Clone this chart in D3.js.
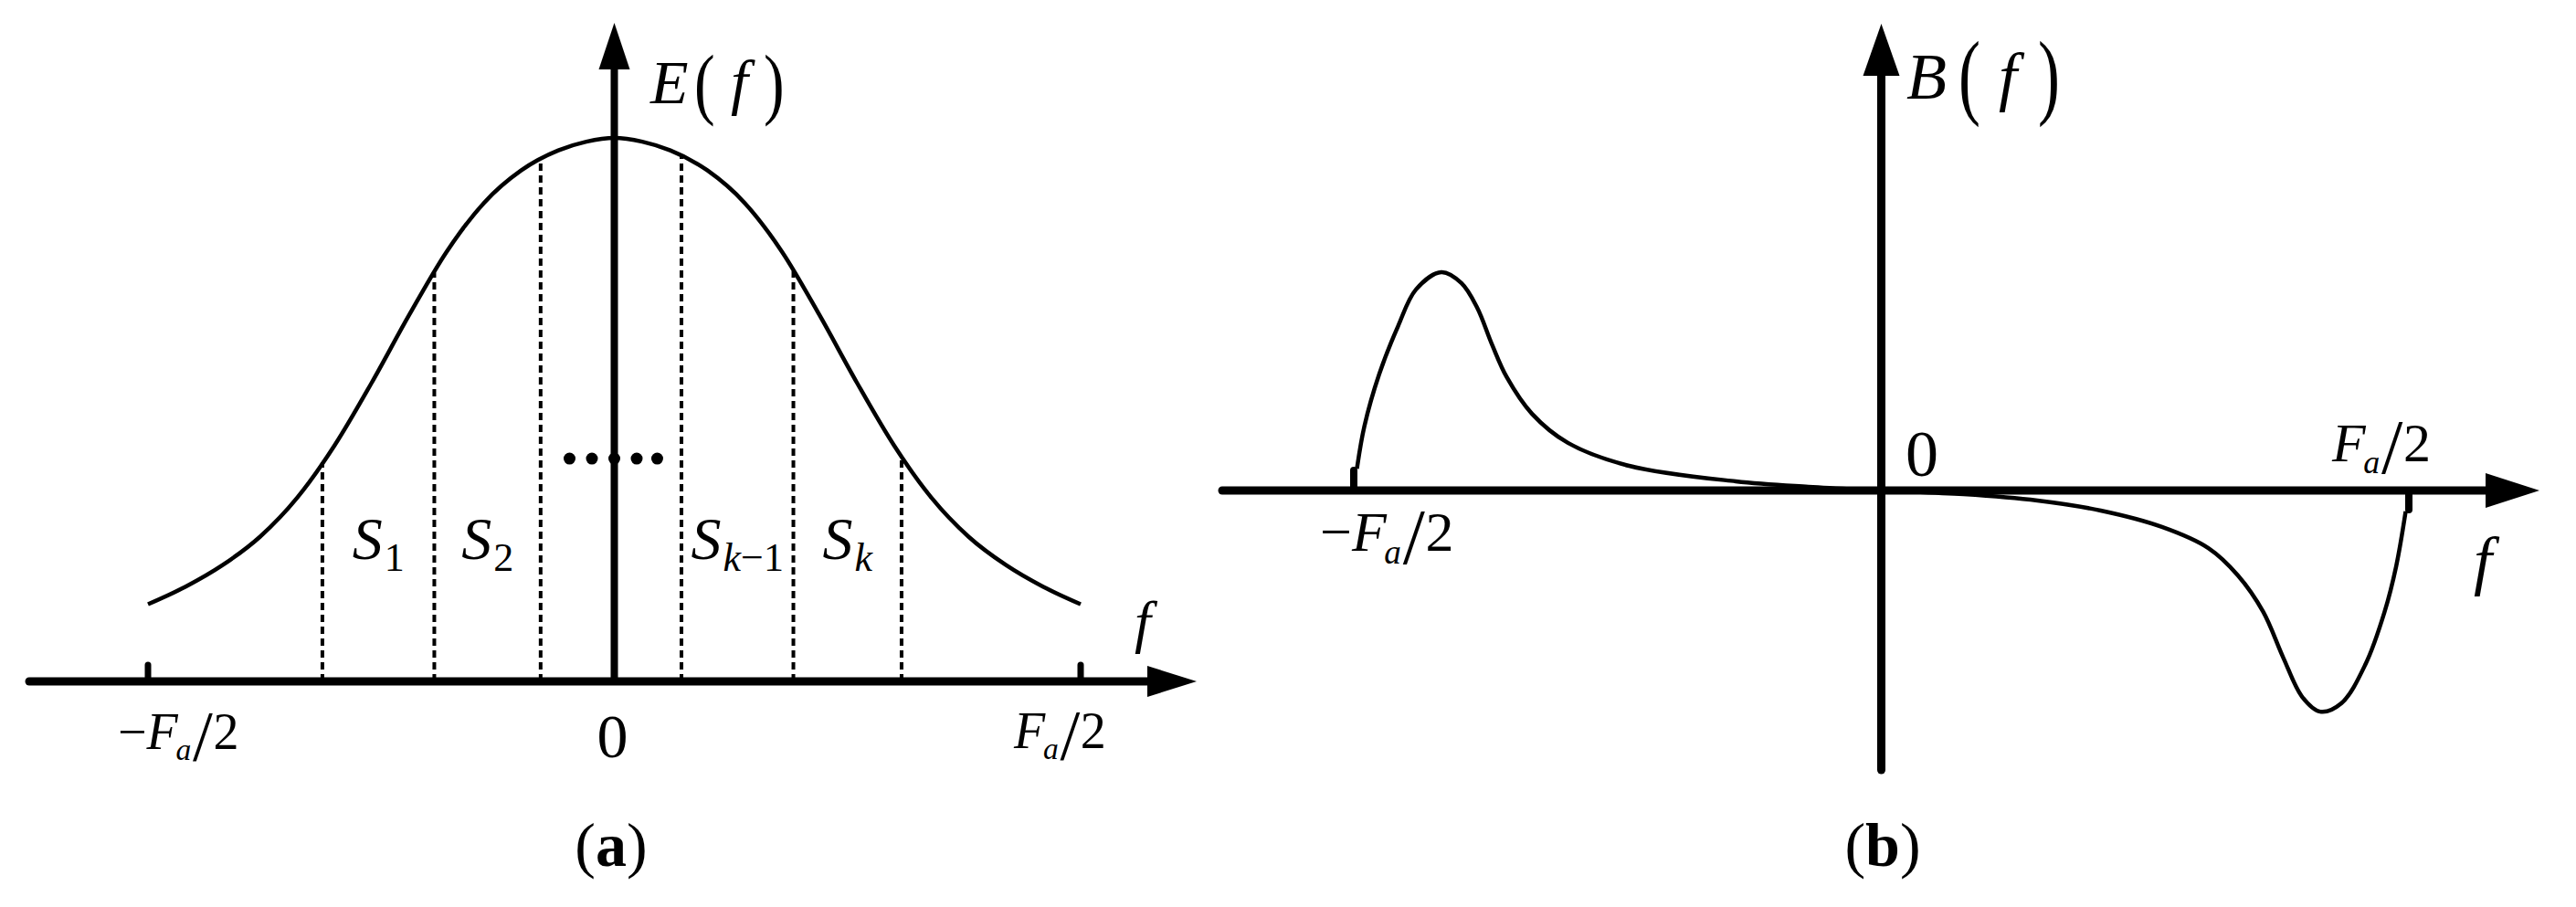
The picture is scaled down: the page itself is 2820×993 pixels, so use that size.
<!DOCTYPE html>
<html><head><meta charset="utf-8">
<script src="https://cdn.jsdelivr.net/npm/d3@7"></script>
<style>html,body{margin:0;padding:0;background:#fff}svg{display:block}</style>
</head><body><svg id="c" width="2820" height="993"></svg>
<script>
// ---------- data (f in units of Fa, Fa/2 = 0.5) ----------
// panel (a): E(f) curve
const fA = [-0.50,-0.46,-0.42,-0.38,-0.34,-0.30,-0.26,-0.22,-0.18,-0.14,-0.10,-0.06,-0.03,0,0.03,0.06,0.10,0.14,0.18,0.22,0.26,0.30,0.34,0.38,0.42,0.46,0.50];
const eA = [0.142,0.174,0.214,0.266,0.338,0.434,0.550,0.674,0.790,0.880,0.940,0.977,0.993,1,0.993,0.977,0.940,0.880,0.790,0.674,0.550,0.434,0.338,0.266,0.214,0.174,0.142];
// panel (a): subband boundaries (dashed lines)
const cutF = [-0.313,-0.193,-0.079,0.072,0.192,0.308];
const cutE = [0.403,0.752,0.959,0.966,0.755,0.415];
// panel (a): subband labels S_i (placed between neighbouring boundaries)
const segSub = ["1","2","k−1","k"];
const segBetween = [[0,1],[1,2],[3,4],[4,5]];
// panel (a): ellipsis dots
const dotF = [-0.048,-0.024,0,0.024,0.046];
const dotE = 0.41;
// panel (b): B(f) curve
const fB = [-0.497,-0.490,-0.476,-0.458,-0.441,-0.417,-0.398,-0.383,-0.369,-0.355,-0.331,-0.297,-0.239,-0.138,-0.069,0,0.078,0.148,0.208,0.266,0.310,0.338,0.362,0.381,0.399,0.416,0.436,0.459,0.477,0.488,0.497];
const bB = [0.100,0.293,0.531,0.753,0.921,1.0,0.950,0.837,0.669,0.519,0.351,0.218,0.113,0.042,0.017,0,-0.017,-0.046,-0.092,-0.167,-0.264,-0.389,-0.556,-0.766,-0.946,-1.013,-0.975,-0.795,-0.556,-0.347,-0.096];
// tick positions
const tickF = [-0.5, 0.5];

// ---------- drawing ----------
const svg = d3.select("#c");
svg.append("rect").attr("width",2820).attr("height",993).attr("fill","#fff");
const SERIF = "'Liberation Serif','Times New Roman',serif";

const xA = d3.scaleLinear().domain([-0.5,0.5]).range([162,1183]);
const yA = d3.scaleLinear().domain([0,1]).range([746,151]);
const xB = d3.scaleLinear().domain([-0.5,0.5]).range([1482,2637]);
const yB = d3.scaleLinear().domain([0,1]).range([537,298]);

const line = (xs, ys, c) => d3.line().x(d=>xs(d[0])).y(d=>ys(d[1])).curve(c);

function fracLabel(x, y, neg, fs) {
  const t = svg.append("text").attr("x",x).attr("y",y).attr("font-family",SERIF).attr("font-size",fs).attr("fill","#000");
  if (neg) t.append("tspan").text("−");
  t.append("tspan").attr("font-style","italic").text("F");
  t.append("tspan").attr("font-style","italic").attr("font-size",fs*0.6).attr("dy",fs*0.22).attr("dx",-fs*0.04).text("a");
  t.append("tspan").attr("font-size",fs*1.4).attr("dx",fs*0.03).text("/");
  t.append("tspan").attr("dy",-fs*0.22).attr("dx",fs*0.01).text("2");
}
function txt(x, y, s, fs, italic) {
  return svg.append("text").attr("x",x).attr("y",y).attr("font-family",SERIF).attr("font-size",fs)
    .attr("font-style",italic?"italic":"normal").attr("fill","#000").text(s);
}
function paren(x, y, s, fs, k) {
  svg.append("text").attr("transform",`translate(${x},${y}) scale(1,${k})`).attr("font-family",SERIF)
    .attr("font-size",fs).attr("fill","#000").text(s);
}
function caption(x, y, letter) {
  const t = svg.append("text").attr("x",x).attr("y",y).attr("text-anchor","middle").attr("font-family",SERIF).attr("font-size",68).attr("fill","#000");
  t.append("tspan").text("(");
  t.append("tspan").attr("font-weight","bold").text(letter);
  t.append("tspan").text(")");
}

// ===== panel (a) =====
const gA = svg.append("g");
gA.selectAll("line.cut").data(cutF.map((f,i)=>[f,cutE[i]])).join("line")
  .attr("x1",d=>xA(d[0])).attr("x2",d=>xA(d[0])).attr("y1",yA(0)).attr("y2",d=>yA(d[1]))
  .attr("stroke","#000").attr("stroke-width",4).attr("stroke-dasharray","8,5");
gA.append("path").datum(fA.map((f,i)=>[f,eA[i]])).attr("d",line(xA,yA,d3.curveMonotoneX))
  .attr("fill","none").attr("stroke","#000").attr("stroke-width",4.5);
// x axis
gA.append("line").attr("x1",32).attr("x2",1262).attr("y1",yA(0)).attr("y2",yA(0))
  .attr("stroke","#000").attr("stroke-width",9).attr("stroke-linecap","round");
gA.append("path").attr("d",`M1310,${yA(0)} L1256,${yA(0)-17} L1256,${yA(0)+17} Z`).attr("fill","#000");
// y axis
gA.append("line").attr("x1",xA(0)).attr("x2",xA(0)).attr("y1",yA(0)).attr("y2",72)
  .attr("stroke","#000").attr("stroke-width",8);
gA.append("path").attr("d",`M${xA(0)},25 L${xA(0)-17},76 L${xA(0)+17},76 Z`).attr("fill","#000");
// ticks
gA.selectAll("line.tick").data(tickF).join("line")
  .attr("x1",d=>xA(d)).attr("x2",d=>xA(d)).attr("y1",yA(0)).attr("y2",yA(0)-18)
  .attr("stroke","#000").attr("stroke-width",7).attr("stroke-linecap","round");
// dots
gA.selectAll("circle").data(dotF).join("circle")
  .attr("cx",d=>xA(d)).attr("cy",yA(dotE)).attr("r",6.5).attr("fill","#000");
// S labels
segSub.forEach((s,i)=>{
  const [a,b] = segBetween[i];
  const cx = (xA(cutF[a])+xA(cutF[b]))/2;
  const t = gA.append("text").attr("x",cx).attr("y",612).attr("text-anchor","middle")
    .attr("font-family",SERIF).attr("font-size",66).attr("fill","#000");
  t.append("tspan").attr("font-style","italic").text("S");
  const sub = t.append("tspan").attr("font-size",44).attr("dy",13).attr("dx",2);
  if (s.startsWith("k")) {
    sub.append("tspan").attr("font-style","italic").text("k");
    if (s.length>1) sub.append("tspan").text(s.slice(1));
  } else sub.text(s);
});
// E(f)
txt(712, 113, "E", 68, true);
paren(760, 119.5, "(", 68, 1.29);
txt(800, 113, "f", 68, true);
paren(836, 119.5, ")", 68, 1.29);
txt(1242, 702, "f", 64, true);
fracLabel(xA(-0.5)-33, 820, true, 56);
gA.append("text").attr("x",xA(0)-2).attr("y",829).attr("text-anchor","middle").attr("font-family",SERIF)
  .attr("font-size",68).text("0");
fracLabel(xA(0.5)-73, 819, false, 56);
caption(669, 948, "a");

// ===== panel (b) =====
const gB = svg.append("g");
gB.append("path").datum(fB.map((f,i)=>[f,bB[i]])).attr("d",line(xB,yB,d3.curveCatmullRom.alpha(0.5)))
  .attr("fill","none").attr("stroke","#000").attr("stroke-width",4.5);
gB.append("line").attr("x1",1338).attr("x2",2726).attr("y1",yB(0)).attr("y2",yB(0))
  .attr("stroke","#000").attr("stroke-width",9).attr("stroke-linecap","round");
gB.append("path").attr("d",`M2780,${yB(0)} L2721,${yB(0)-19} L2721,${yB(0)+19} Z`).attr("fill","#000");
gB.append("line").attr("x1",xB(0)).attr("x2",xB(0)).attr("y1",843).attr("y2",78)
  .attr("stroke","#000").attr("stroke-width",9).attr("stroke-linecap","round");
gB.append("path").attr("d",`M${xB(0)},26 L${xB(0)-20},83 L${xB(0)+20},83 Z`).attr("fill","#000");
gB.append("line").attr("x1",xB(-0.5)).attr("x2",xB(-0.5)).attr("y1",yB(0)).attr("y2",yB(0)-22)
  .attr("stroke","#000").attr("stroke-width",8).attr("stroke-linecap","round");
gB.append("line").attr("x1",xB(0.5)).attr("x2",xB(0.5)).attr("y1",yB(0)).attr("y2",yB(0)+21)
  .attr("stroke","#000").attr("stroke-width",8).attr("stroke-linecap","round");
// B(f)
txt(2087, 108, "B", 72, true);
paren(2144, 116.6, "(", 72, 1.43);
txt(2188, 108, "f", 72, true);
paren(2231, 116.6, ")", 72, 1.43);
txt(2708, 638, "f", 72, true);
gB.append("text").attr("x",2104).attr("y",521).attr("text-anchor","middle").attr("font-family",SERIF)
  .attr("font-size",72).text("0");
fracLabel(xB(-0.5)-37, 603, true, 62);
fracLabel(xB(0.5)-84, 505, false, 60);
caption(2061, 948, "b");
</script></body></html>
